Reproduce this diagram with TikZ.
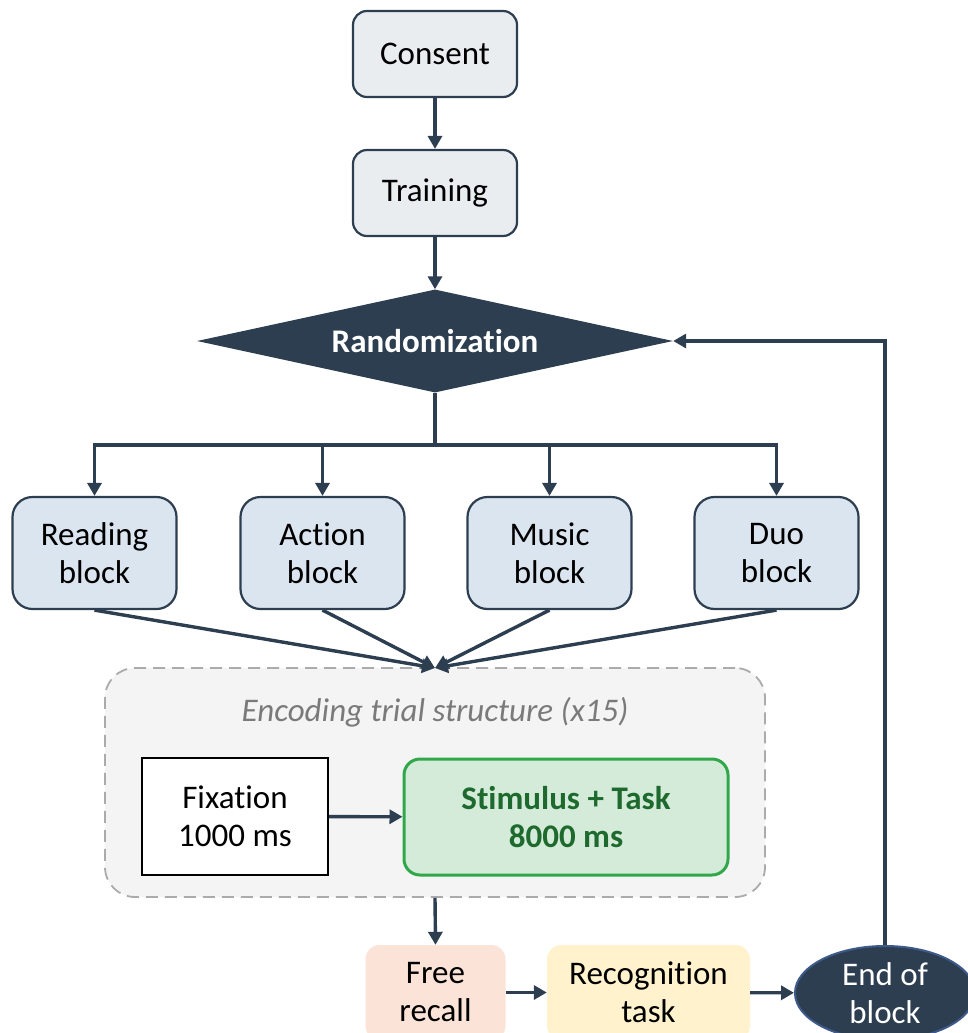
\documentclass[tikz,border=0pt]{standalone}
\usepackage{fontspec}
\setmainfont{Carlito}[Ligatures=NoCommon]
\usetikzlibrary{shapes.geometric,arrows.meta}
\definecolor{navy}{HTML}{2C3E50}
\definecolor{paleg}{HTML}{E9EDF0}
\definecolor{blockblue}{HTML}{DBE5F0}
\definecolor{encfill}{HTML}{F4F4F4}
\definecolor{encdash}{HTML}{ABABAB}
\definecolor{enctext}{HTML}{7A7A7A}
\definecolor{stimfill}{HTML}{D5EBD9}
\definecolor{stimdraw}{HTML}{30A84A}
\definecolor{stimtext}{HTML}{1E6A2E}
\definecolor{peach}{HTML}{FBE4D7}
\definecolor{cream}{HTML}{FFF2CC}
\definecolor{ellborder}{HTML}{3D5A8A}
\begin{document}
\begin{tikzpicture}[x=1pt,y=-1pt,
  txt/.style={align=center,font=\fontsize{33}{38}\selectfont,text=black},
  pale/.style={txt,draw=navy,line width=2.2pt,rounded corners=14pt,fill=paleg,minimum width=164pt,minimum height=86pt,inner sep=0pt},
  blockbox/.style={txt,draw=navy,line width=2.2pt,rounded corners=20pt,fill=blockblue,minimum width=164pt,minimum height=112pt,inner sep=0pt},
  conn/.style={draw=navy,line width=3.4pt},
  arr/.style={conn,-{Triangle[length=13pt,width=14pt]}},
  softbox/.style={txt,rounded corners=14pt,minimum height=95pt,inner sep=0pt}]
\useasboundingbox (0,0) rectangle (968,1033);

\node[pale] (consent) at (435,54) {Consent};
\node[pale] (training) at (435,193) {Training};
\node[diamond,fill=navy,minimum width=476pt,minimum height=103pt,inner sep=0pt,aspect=4.6,
      text=white,font=\fontsize{33}{38}\selectfont\bfseries] (rand) at (435,341) {Randomization};

\node[blockbox] (reading) at (94.5,553) {Reading\\block};
\node[blockbox] (action) at (322.5,553) {Action\\block};
\node[blockbox] (music) at (549.5,553) {Music\\block};
\node[blockbox] (duo) at (776.5,553) {Duo\\block};

\node[draw=encdash,dashed,dash pattern=on 12pt off 7pt,line width=1.8pt,fill=encfill,rounded corners=30pt,
      minimum width=660pt,minimum height=229pt,inner sep=0pt] (enc) at (435,782.5) {};
\node[font=\fontsize{33}{38}\selectfont\itshape,text=enctext] (enctitle) at (435,712) {Encoding trial structure (x15)};
\node[txt,draw=black,line width=2pt,fill=white,minimum width=186pt,minimum height=117pt,inner sep=0pt] (fix) at (235,816.5) {Fixation\\1000 ms};
\node[txt,draw=stimdraw,line width=3pt,fill=stimfill,rounded corners=16pt,minimum width=324pt,minimum height=116pt,inner sep=0pt,
      text=stimtext,font=\fontsize{33}{38}\selectfont\bfseries] (stim) at (566,817) {Stimulus + Task\\8000 ms};

\node[softbox,fill=peach,minimum width=140pt] (free) at (435.5,992.5) {Free\\recall};
\node[softbox,fill=cream,minimum width=203pt] (recog) at (648.5,992.5) {Recognition\\task};
\node[ellipse,draw=ellborder,line width=2pt,fill=navy,minimum width=180pt,minimum height=94pt,inner sep=0pt,
      txt,text=white] (endb) at (885,993) {End of\\block};

\coordinate (split) at (435,445);
\coordinate (conv) at (435,668);

\draw[arr] (consent) -- (training);
\draw[arr] (training) -- (rand);
\draw[conn] (rand.south) -- (split);
\draw[conn,line cap=rect] (split -| reading) -- (split -| duo);
\draw[arr] (split -| reading) -- (reading.north);
\draw[arr] (split -| action) -- (action.north);
\draw[arr] (split -| music) -- (music.north);
\draw[arr] (split -| duo) -- (duo.north);

\draw[arr] (reading.south) -- (conv);
\draw[arr] (action.south) -- (conv);
\draw[arr] (music.south) -- (conv);
\draw[arr] (duo.south) -- (conv);

\draw[arr] (fix) -- (stim);
\draw[arr] (enc.south) -- (free.north);
\draw[arr] (free) -- (recog);
\draw[arr] (recog) -- (endb);
\draw[arr] (endb.north) |- (rand.east);
\end{tikzpicture}
\end{document}
